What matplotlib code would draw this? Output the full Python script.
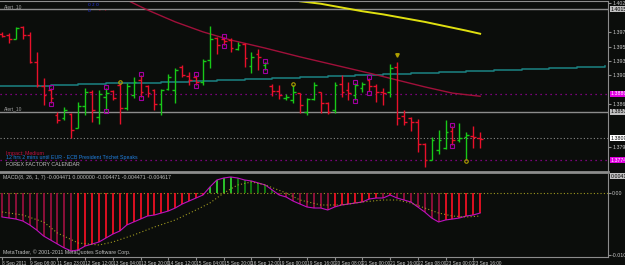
import numpy as np
import matplotlib.pyplot as plt

plt.rcParams['font.family'] = ['Liberation Sans', 'DejaVu Sans']

# EURUSD H4 bars, 8 Sep - 23 Sep 2011
opens = [1.3976, 1.3974, 1.3968, 1.3987, 1.3974, 1.3931, 1.3892, 1.3886, 1.3846, 1.3841,
         1.3848, 1.3825, 1.3860, 1.3883, 1.3843, 1.3875, 1.3884, 1.3894, 1.3857, 1.3878,
         1.3902, 1.3892, 1.3886, 1.3864, 1.3888, 1.3886, 1.3923, 1.3908, 1.3907, 1.3899,
         1.3934, 1.3969, 1.3968, 1.3966, 1.3952, 1.3960, 1.3924, 1.3944, 1.3926, 1.3892,
         1.3884, 1.3873, 1.3870, 1.3881, 1.3851, 1.3872, 1.3883, 1.3865, 1.3854, 1.3896,
         1.3886, 1.3878, 1.3889, 1.3902, 1.3892, 1.3883, 1.3883, 1.3923, 1.3844, 1.3841,
         1.3835, 1.3800, 1.3774, 1.3790, 1.3793, 1.3820, 1.3806, 1.3811, 1.3812, 1.3809]
highs = [1.3979, 1.3977, 1.3987, 1.3988, 1.3979, 1.3947, 1.3905, 1.3889, 1.3851, 1.3859,
         1.3849, 1.3867, 1.3889, 1.3886, 1.3886, 1.3889, 1.3886, 1.3897, 1.3897, 1.3907,
         1.3910, 1.3894, 1.3888, 1.3888, 1.3912, 1.3921, 1.3926, 1.3915, 1.3910, 1.3936,
         1.3988, 1.3971, 1.3971, 1.3969, 1.3963, 1.3961, 1.3947, 1.3952, 1.3931, 1.3896,
         1.3894, 1.3880, 1.3894, 1.3881, 1.3873, 1.3899, 1.3883, 1.3867, 1.3899, 1.3910,
         1.3899, 1.3897, 1.3899, 1.3905, 1.3896, 1.3889, 1.3928, 1.3931, 1.3854, 1.3843,
         1.3840, 1.3801, 1.3811, 1.3822, 1.3838, 1.3828, 1.3833, 1.3819, 1.3828, 1.3819]
lows = [1.3971, 1.3961, 1.3968, 1.3968, 1.3929, 1.3891, 1.3862, 1.3865, 1.3833, 1.3838,
        1.3809, 1.3825, 1.3846, 1.3835, 1.3832, 1.3854, 1.3870, 1.3832, 1.3854, 1.3873,
        1.3875, 1.3875, 1.3854, 1.3846, 1.3886, 1.3865, 1.3907, 1.3894, 1.3894, 1.3894,
        1.3921, 1.3944, 1.3958, 1.3947, 1.3950, 1.3923, 1.3913, 1.3918, 1.3918, 1.3876,
        1.3872, 1.3870, 1.3865, 1.3849, 1.3846, 1.3870, 1.3849, 1.3848, 1.3849, 1.3875,
        1.3870, 1.3870, 1.3883, 1.3884, 1.3867, 1.3862, 1.3875, 1.3830, 1.3830, 1.3820,
        1.3787, 1.3763, 1.3774, 1.3784, 1.3792, 1.3798, 1.3803, 1.3776, 1.3793, 1.3793]
closes = [1.3972, 1.3968, 1.3985, 1.3974, 1.3931, 1.3894, 1.3878, 1.3873, 1.3838, 1.3854,
          1.3822, 1.3860, 1.3883, 1.3854, 1.3880, 1.3881, 1.3873, 1.3857, 1.3892, 1.3899,
          1.3883, 1.3881, 1.3864, 1.3886, 1.3907, 1.3918, 1.3910, 1.3902, 1.3899, 1.3932,
          1.3968, 1.3958, 1.3964, 1.3953, 1.3958, 1.3937, 1.3939, 1.3939, 1.3929, 1.3884,
          1.3878, 1.3875, 1.3883, 1.3862, 1.3872, 1.3894, 1.3865, 1.3851, 1.3894, 1.3883,
          1.3881, 1.3894, 1.3896, 1.3892, 1.3883, 1.3881, 1.3921, 1.3841, 1.3835, 1.3835,
          1.3800, 1.3774, 1.3806, 1.3806, 1.3819, 1.3806, 1.3809, 1.3814, 1.3811, 1.3808]

# moving averages (read at a few bars)
yellow_idx = [43, 46, 49, 52, 55, 58, 61, 64, 67, 69]
yellow_ma = [1.4028, 1.4024, 1.4018, 1.4012, 1.4007, 1.4001, 1.3995, 1.3988, 1.3981, 1.3976]
maroon_idx = [18, 21, 25, 29, 33, 38, 43, 48, 53, 57, 61, 65, 69]
maroon_ma = [1.4030, 1.4014, 1.3995, 1.3979, 1.3966, 1.3953, 1.3939, 1.3926, 1.3913,
             1.3902, 1.3891, 1.3881, 1.3876]
teal_idx = [-1, 3, 7, 11, 15, 19, 23, 27, 31, 35, 39, 43, 47, 51, 55, 59, 63, 67, 71,
            75, 79, 83, 87]
teal_ma = [1.3892, 1.3893, 1.3894, 1.3896, 1.3897, 1.3897, 1.3899, 1.3900, 1.3902,
           1.3904, 1.3905, 1.3907, 1.3908, 1.3910, 1.3912, 1.3913, 1.3915, 1.3916,
           1.3918, 1.3920, 1.3921, 1.3923, 1.3924]

fractal_idx = [7, 15, 20, 28, 32, 38, 51, 53, 65]
signal_up_idx = [17, 42]
arrow_idx = [57]
signal_dn_idx = [67]

alert_levels = [1.4015, 1.3851]
bid_level = 1.3809
magenta_levels = [1.3880, 1.3774]

macd = [-0.00422, -0.00440, -0.00458, -0.00493, -0.00563, -0.00651, -0.00757, -0.00827,
        -0.00898, -0.00968, -0.01021, -0.01003, -0.00933, -0.00898, -0.00862, -0.00792,
        -0.00722, -0.00669, -0.00563, -0.00510, -0.00458, -0.00405, -0.00387, -0.00352,
        -0.00317, -0.00264, -0.00194, -0.00141, -0.00088, -0.00035, 0.00106, 0.00229,
        0.00264, 0.00282, 0.00264, 0.00229, 0.00211, 0.00176, 0.00141, 0.00053,
        -0.00035, -0.00070, -0.00141, -0.00194, -0.00246, -0.00264, -0.00264, -0.00299,
        -0.00246, -0.00211, -0.00194, -0.00176, -0.00158, -0.00106, -0.00088, -0.00088,
        -0.00035, -0.00088, -0.00123, -0.00158, -0.00246, -0.00334, -0.00440, -0.00510,
        -0.00475, -0.00458, -0.00440, -0.00405, -0.00387, -0.00352]
sig_idx = [0, 3, 6, 8, 11, 14, 16, 19, 22, 25, 28, 30, 32, 34, 36, 38, 41, 43, 46, 49,
           52, 55, 57, 59, 61, 63, 65, 67, 69]
sig = [-0.00334, -0.00387, -0.00510, -0.00704, -0.00880, -0.00915, -0.00862, -0.00739,
       -0.00598, -0.00475, -0.00299, -0.00176, 0.0, 0.00141, 0.00194, 0.00141, 0.0,
       -0.00123, -0.00211, -0.00211, -0.00158, -0.00123, -0.00123, -0.00176, -0.00264,
       -0.00352, -0.00405, -0.00422, -0.00405]

price_ticks = [1.40245, 1.39785, 1.39555, 1.39325, 1.39095, 1.38635, 1.37945]
time_ticks = list(range(0, 70, 4))
time_labels = ['8 Sep 2011', '9 Sep 08:00', '11 Sep 23:00', '12 Sep 12:00', '13 Sep 04:00',
               '13 Sep 20:00', '14 Sep 12:00', '15 Sep 04:00', '15 Sep 20:00', '16 Sep 12:00',
               '19 Sep 00:00', '19 Sep 16:00', '20 Sep 08:00', '21 Sep 00:00', '21 Sep 16:00',
               '22 Sep 08:00', '23 Sep 00:00', '23 Sep 16:00']

BG = '#0b0d0b'
GRAY = '#8c8c8c'
TXT = '#c8c8c8'
W, H = 625, 265


def box(x0, y0, x1, y1):
    return [x0 / W, 1 - y1 / H, (x1 - x0) / W, (y1 - y0) / H]


fig = plt.figure(figsize=(W / 100, H / 100), dpi=100, facecolor=BG)
ax = fig.add_axes(box(0, 1, 608, 172))
mx = fig.add_axes(box(0, 174, 608, 257))
for a in (ax, mx):
    a.set_facecolor(BG)
    for s in a.spines.values():
        s.set_color(GRAY)
    a.spines['left'].set_visible(False)
    a.set_xlim(-0.29, 87.45)

o, h, l, c = map(np.array, (opens, highs, lows, closes))
idx = np.arange(len(o))
cols = np.where(c >= o, '#18c818', '#e8102a')

# main window
ax.set_ylim(1.37548, 1.40284)
ax.axhline(alert_levels[0], color=GRAY, lw=1)
ax.axhline(alert_levels[1], color=GRAY, lw=1)
ax.axhline(bid_level, color=GRAY, lw=0.8, ls=(0, (1, 2)))
for lv in magenta_levels:
    ax.axhline(lv, color='#a000a0', lw=0.9, ls=(0, (1, 3)))

ax.plot(teal_idx, teal_ma, color='#1a7a7a', lw=1.2, drawstyle='steps-post')
ax.plot(maroon_idx, maroon_ma, color='#a0103a', lw=1)
ax.plot(yellow_idx, yellow_ma, color='#e0e010', lw=1.4)

ax.vlines(idx, l, h, colors=cols, lw=1)
ax.hlines(o, idx - 0.4, idx, colors=cols, lw=1)
ax.hlines(c, idx, idx + 0.4, colors=cols, lw=1)

fi = np.array(fractal_idx)
ax.plot(fi, h[fi] + 0.0002, 's', ms=2.5, mfc='none', mec='#a000a0', mew=0.8)
ax.plot(fi, l[fi] - 0.0002, 's', ms=2.5, mfc='none', mec='#a000a0', mew=0.8)
ax.plot(signal_up_idx, h[signal_up_idx] + 0.0002, 'o', ms=2.5, mfc='none', mec='#b0a000', mew=0.8)
ax.plot(arrow_idx, h[arrow_idx] + 0.0011, 'v', ms=2.5, color='#b0a000')
ax.plot(signal_dn_idx, l[signal_dn_idx] - 0.0004, 'o', ms=2.5, mfc='none', mec='#b0a000', mew=0.8)

ax.yaxis.tick_right()
ax.set_yticks(price_ticks)
ax.set_yticklabels([f'{v:.5f}' for v in price_ticks])
ax.tick_params(axis='y', labelsize=3.8, colors=TXT, length=2, pad=1)
ax.tick_params(axis='y', color=GRAY)
ax.set_xticks([])
ax.spines['bottom'].set_linewidth(2)

tr = ax.get_yaxis_transform()
for lv in alert_levels:
    ax.text(1.004, lv, f'{lv:.5f}', transform=tr, fontsize=3.8, color='#000000', va='center',
            bbox=dict(facecolor='#c0c0c0', edgecolor='none', pad=0.4), clip_on=False)
ax.text(1.004, bid_level, f'{bid_level:.5f}', transform=tr, fontsize=3.8, color='#000000',
        va='center', bbox=dict(facecolor='#ffffff', edgecolor='none', pad=0.4), clip_on=False)
for lv in magenta_levels:
    ax.text(1.004, lv, f'{lv:.5f}', transform=tr, fontsize=3.8, color='#ffffff', va='center',
            bbox=dict(facecolor='#e000e0', edgecolor='none', pad=0.4), clip_on=False)

# MACD window
m = np.array(macd)
dm = np.diff(m, prepend=m[0])
mcols = np.where(m >= 0, np.where(dm >= 0, '#30e030', '#108a10'),
                 np.where(dm <= 0, '#a01040', '#ff1025'))
mx.set_ylim(-0.011264, 0.003344)
mx.axhline(0, color='#a09a20', lw=0.8, ls=(0, (1, 2)))
mx.vlines(idx, 0, m, colors=mcols, lw=1.2)
mx.plot(idx, m, color='#c010c0', lw=0.8)
mx.plot(sig_idx, sig, color='#a09a20', lw=0.8, ls=(0, (1, 2)))
mx.yaxis.tick_right()
mx.set_yticks([0.0, -0.01091])
mx.set_yticklabels(['0.00', '-0.010959'])
mx.tick_params(axis='y', labelsize=3.8, colors=TXT, length=2, pad=1)
mx.tick_params(axis='y', color=GRAY)
mx.text(1.004, 0.00299, '0.004115', transform=mx.get_yaxis_transform(), fontsize=3.8,
        color='#000000', va='center', clip_on=False,
        bbox=dict(facecolor='#c0c0c0', edgecolor='none', pad=0.4))
mx.spines['top'].set_visible(False)
mx.set_xticks(time_ticks)
mx.set_xticklabels(time_labels)
mx.tick_params(axis='x', labelsize=3.4, colors=TXT, length=2, pad=1)
mx.tick_params(axis='x', color=GRAY)
for lab in mx.get_xticklabels():
    lab.set_horizontalalignment('left')


# window texts
def ftext(x, y, s, color, size=3.8, **kw):
    fig.text(x / W, 1 - y / H, s, color=color, fontsize=size, va='center', **kw)


ftext(4, 7, 'Alert_10', '#a0a0a0', 3.5)
ftext(4, 109, 'Alert_10', '#a0a0a0', 3.5)
ftext(88, 4, 'o z o', '#2030d0', 3.5)
ftext(88, 11, 'o', '#2030d0', 3.5)
ftext(99, 11, '-   -', '#c01030', 3.5)
ftext(6, 153, 'Impact: Medium', '#c01040')
ftext(6, 158, '12 hrs 2 mins until EUR - ECB President Trichet Speaks', '#2080e0')
ftext(6, 164, 'FOREX FACTORY CALENDAR', '#c0c0c0')
ftext(3, 178, 'MACD(8, 26, 1, 7) -0.004471 0.000000 -0.004471 -0.004471 -0.004617', '#c0c0c0')
ftext(3, 252, 'MetaTrader, \u00a9 2001-2011 MetaQuotes Software Corp.', '#c0c0c0')

fig.savefig('out.png', dpi=100, facecolor=BG)
